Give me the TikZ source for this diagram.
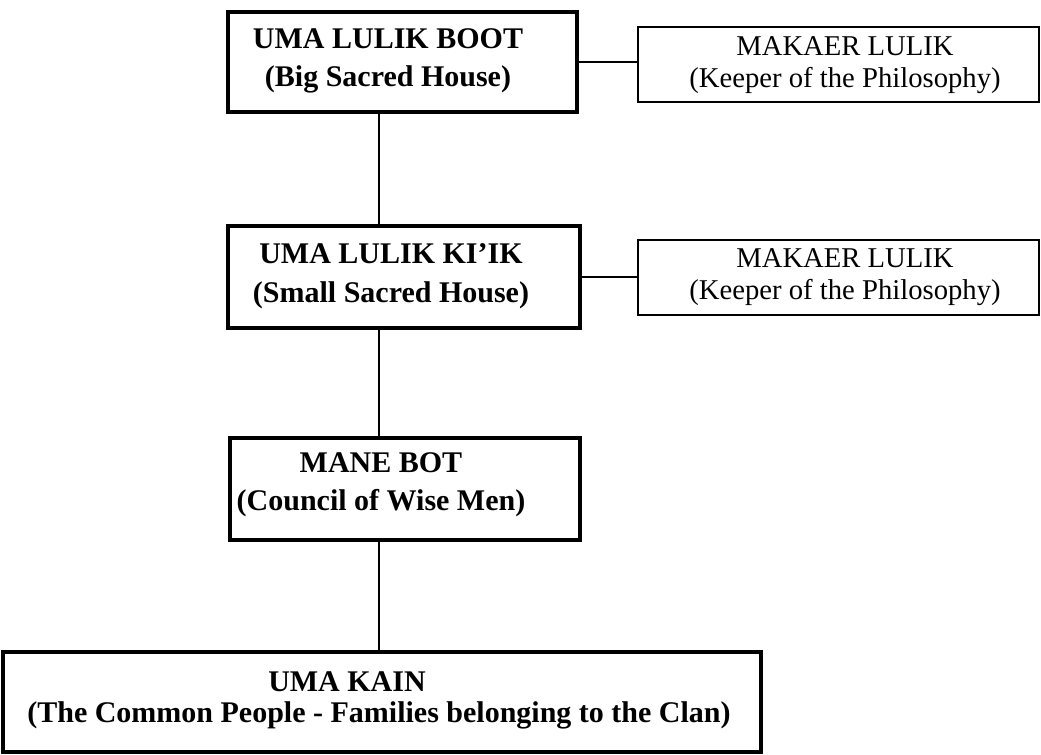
\documentclass[tikz,border=0pt]{standalone}
\usepackage{fontspec}
\setmainfont{Liberation Serif}
\begin{document}
\begin{tikzpicture}[x=0.75pt,y=-0.75pt,
  boxsize/.style 2 args={minimum width=#1*0.75pt, minimum height=#2*0.75pt},
  house/.style={draw=black, line width=2.6pt, inner sep=0pt},
  keeper/.style={draw=black, line width=1.6pt, inner sep=0pt},
  spinelink/.style={draw=black, line width=1.3pt},
  sidelink/.style={draw=black, line width=0.9pt},
  housetext/.style={align=center, anchor=base, inner sep=0pt,
    font=\bfseries\fontsize{22.5}{28.5}\selectfont},
  keepertext/.style={align=center, anchor=base, inner sep=0pt,
    font=\fontsize{21.5}{24}\selectfont}]

% canvas
\fill[white] (0,0) rectangle (1041,755);
\useasboundingbox (0,0) rectangle (1041,755);

% sacred houses and the clan
\node[house, boxsize={349}{100}] (boot) at (402.5,62) {};
\node[house, boxsize={352}{102}] (kiik) at (404,277) {};
\node[house, boxsize={350}{102}] (mane) at (405,489) {};
\node[house, boxsize={758}{100}] (kain) at (382,702) {};

% keepers of the philosophy
\node[keeper, boxsize={401}{75}] (mk1) at (838.5,64.5) {};
\node[keeper, boxsize={401}{75}] (mk2) at (838.5,277.5) {};

% labels (anchored on the baseline of their last line)
\node[housetext] (boot-t) at (388,87) {UMA LULIK BOOT\\(Big Sacred House)};
\node[housetext] (kiik-t) at (391,302) {UMA LULIK KI'IK\\(Small Sacred House)};
\node[housetext] (mane-t) at (381,510) {MANE BOT\\(Council of Wise Men)};
\node[housetext, font=\bfseries\fontsize{22.5}{23}\selectfont] (kain-t) at (379,722)
  {UMA KAIN\hspace*{48pt}\\(The Common People - Families belonging to the Clan)};
\node[keepertext] (mk1-t) at (845,88) {MAKAER LULIK\\(Keeper of the Philosophy)};
\node[keepertext] (mk2-t) at (845,300) {MAKAER LULIK\\(Keeper of the Philosophy)};

% hierarchy
\coordinate (spine) at (379,0);
\draw[spinelink] (boot.south -| spine) -- (kiik.north -| spine);
\draw[spinelink] (kiik.south -| spine) -- (mane.north -| spine);
\draw[spinelink] (mane.south -| spine) -- (kain.north -| spine);
\draw[sidelink] (boot.east) -- (boot.east -| mk1.west);
\draw[sidelink] (kiik.east) -- (kiik.east -| mk2.west);
\end{tikzpicture}
\end{document}
